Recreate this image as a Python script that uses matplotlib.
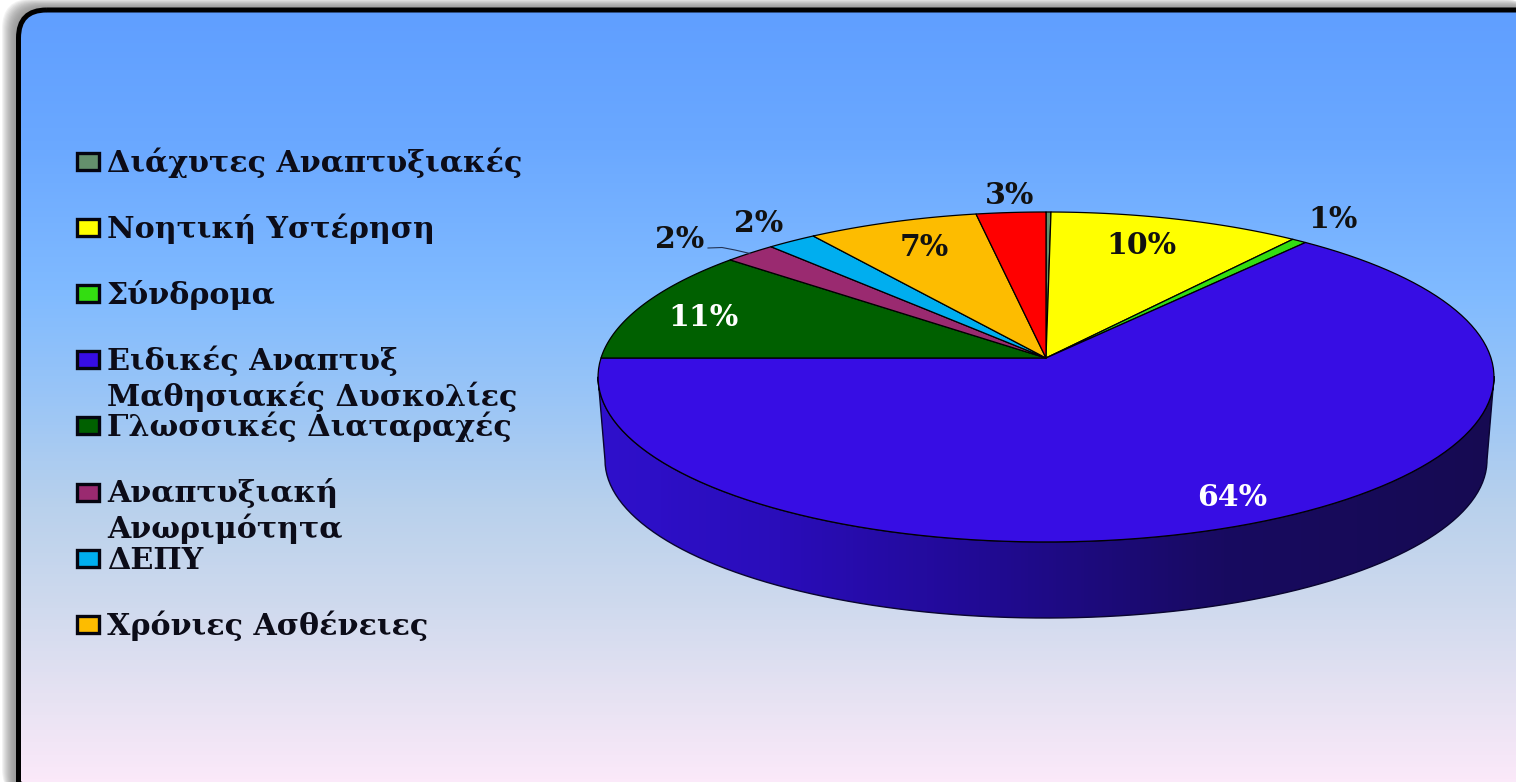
import numpy as np
import matplotlib
matplotlib.use("Agg")
import matplotlib.pyplot as plt
from matplotlib.colors import LinearSegmentedColormap
from matplotlib.patches import FancyBboxPatch, Polygon, Rectangle

categories = [
    "Διάχυτες Αναπτυξιακές",
    "Νοητική Υστέρηση",
    "Σύνδρομα",
    "Ειδικές Αναπτυξ\nΜαθησιακές Δυσκολίες",
    "Γλωσσικές Διαταραχές",
    "Αναπτυξιακή\nΑνωριμότητα",
    "ΔΕΠΥ",
    "Χρόνιες Ασθένειες",
]
values = [0.2, 10.15, 0.6, 64.05, 11.2, 2.1, 2.0, 6.9, 2.8]
colors = ["#64906c", "#ffff00", "#33dd11", "#370de4", "#006000",
          "#9a2a70", "#00aeef", "#fdbc00", "#ff0000"]
label_colors = [None, "#111111", "#111111", "white", "white",
                "#111111", "#111111", "#111111", "#111111"]
label_pos = [None, (1141, 246), (1333, 220), (1232, 498), (703, 317),
             (680, 240), (759, 223), (924, 247), (1010, 195)]

FONT = "DejaVu Serif"

# pie geometry, in pixels
CX, CY = 1046, 358
K = 0.115
A, B = 162.8, 445.0


def rim(t):
    # point on the top rim, seen in perspective
    d = 1 + K * np.cos(t)
    return CX + B * np.sin(t) / d, CY - A * np.cos(t) / d


fig = plt.figure(figsize=(15.16, 7.82), dpi=100)
ax = fig.add_axes([0, 0, 1, 1])

# soft shadow round the panel
for d in np.arange(17, 0, -1.0):
    g = 0.6 + 0.4 * (d / 17) ** 2
    ax.add_patch(FancyBboxPatch((18 - d, 10 - d * 0.7), 1530, 800,
                                boxstyle="round,pad=0,rounding_size=30",
                                fc=(g, g, g), ec="none"))

# panel with vertical gradient
stops = [(0.0, "#5f9eff"), (0.18, "#6aa8ff"), (0.38, "#81bbff"), (0.52, "#9cc6f6"),
         (0.65, "#b9d1ec"), (0.78, "#d0daee"), (0.9, "#e8e3f3"), (1.0, "#fbe9f9")]
bg_cmap = LinearSegmentedColormap.from_list("bg", stops)
panel = FancyBboxPatch((18.5, 10), 1530, 800, boxstyle="round,pad=0,rounding_size=28",
                       fc="none", ec="none")
ax.add_patch(panel)
im = ax.imshow(np.linspace(0, 1, 256).reshape(-1, 1), cmap=bg_cmap, aspect="auto",
               extent=(0, 1516, 782, 0), zorder=1)
im.set_clip_path(panel)
ax.add_patch(FancyBboxPatch((18.5, 10), 1530, 800, boxstyle="round,pad=0,rounding_size=28",
                            fc="none", ec="black", lw=3.6, zorder=2))

# side wall of the big slice
s = np.linspace(0, np.pi, 200)
top_x, top_y = 1046 + 448 * np.cos(s), 377 + 165 * np.sin(s)
bot_x, bot_y = 1046 + 441 * np.cos(s), 460 + 158 * np.sin(s)
wall = Polygon(np.r_[np.c_[top_x, top_y], np.c_[bot_x, bot_y][::-1]], closed=True,
               fc="none", ec="none", zorder=3)
ax.add_patch(wall)
wall_cmap = LinearSegmentedColormap.from_list(
    "wall", [(0, "#2f10cc"), (0.2, "#2a0dba"), (0.45, "#200a90"), (0.7, "#180a60"), (1, "#160a52")])
wall_im = ax.imshow(np.linspace(0, 1, 256).reshape(1, -1), cmap=wall_cmap, aspect="auto",
                    extent=(598, 1494, 640, 360), zorder=3)
wall_im.set_clip_path(wall)
ax.plot(np.r_[top_x, bot_x[::-1], top_x[0]], np.r_[top_y, bot_y[::-1], top_y[0]],
        color="#0a0530", lw=1.0, zorder=4)

# top of the pie
edges = np.r_[0, np.cumsum(values)] / np.sum(values) * 2 * np.pi
for i, c in enumerate(colors):
    t = np.linspace(edges[i], edges[i + 1], 120)
    x, y = rim(t)
    ax.add_patch(Polygon(np.r_[[[CX, CY]], np.c_[x, y]], closed=True, fc=c,
                         ec="black", lw=0.9, joinstyle="round", zorder=5))

# percent labels
for v, c, p in zip(values, label_colors, label_pos):
    if p is None:
        continue
    ax.text(p[0], p[1], f"{round(v)}%", color=c, fontsize=21.5, fontweight="bold",
            family=FONT, ha="center", va="center", zorder=6)
ax.plot([708, 722, 735, 750], [248, 247.5, 250, 253.5], color="#223355", lw=0.8, zorder=6)

# legend
y0, step = 161, 66.2
for i, name in enumerate(categories):
    y = y0 + i * step
    ax.add_patch(Rectangle((77, y - 8.5), 22, 17, fc=colors[i], ec="#050510", lw=2.4, zorder=6))
    for j, line in enumerate(name.split("\n")):
        ax.text(107, y + 10.5 + j * 36, line, fontsize=21.7, fontweight="bold", family=FONT,
                color="#0c0c18", ha="left", va="baseline", zorder=6)

ax.set_xlim(0, 1516)
ax.set_ylim(782, 0)
ax.axis("off")

fig.savefig("out.png", dpi=100, facecolor="white")
